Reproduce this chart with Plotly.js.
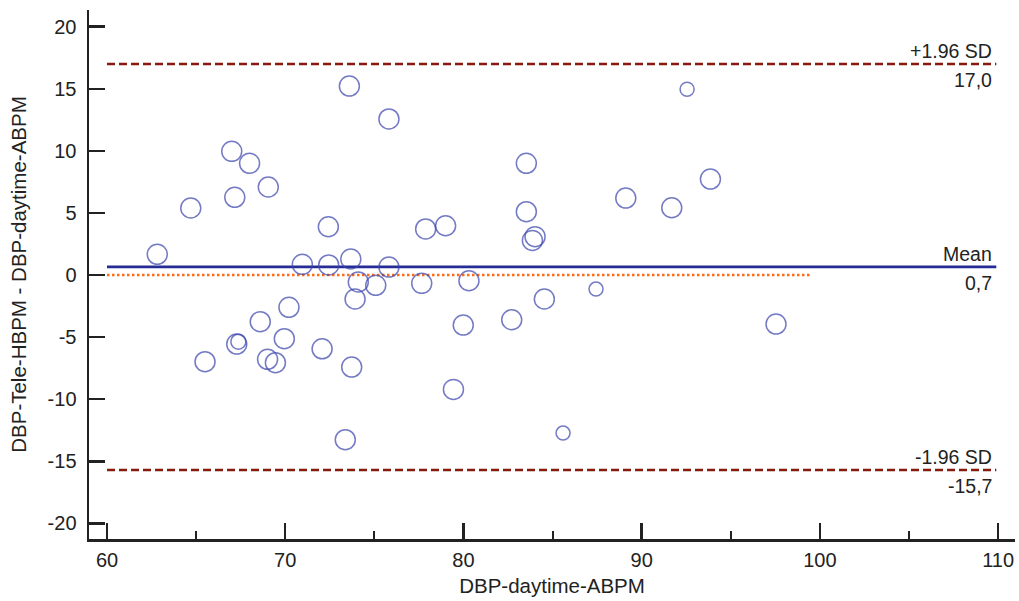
<!DOCTYPE html>
<html>
<head>
<meta charset="utf-8">
<script src="https://cdn.plot.ly/plotly-3.0.1.min.js"></script>
<style>
html,body{margin:0;padding:0;background:#fff;}
#chart{width:1019px;height:601px;}
</style>
</head>
<body>
<div id="chart"></div>
<script>
// Bland-Altman data: mean of methods (x) and difference (y)
const meanABPM = [73.6, 67.0, 68.0, 69.05, 67.17, 64.7, 72.42, 62.82,
  75.82, 83.53, 83.53, 77.88, 79.0, 84.02, 83.87, 92.55, 93.86, 89.11, 91.69,
  70.96, 72.44, 73.68, 74.1, 73.92, 70.21, 68.6, 69.95, 67.28, 67.37, 65.5,
  69.01, 69.45, 72.07, 73.73, 73.37, 75.82, 75.08, 77.66, 80.31, 79.99,
  82.71, 84.54, 79.44, 85.59, 87.44, 97.54];
const diffValues = [15.22, 9.96, 9.0, 7.09, 6.26, 5.40, 3.89, 1.67,
  12.57, 9.0, 5.10, 3.71, 3.97, 3.09, 2.79, 14.96, 7.73, 6.2, 5.42,
  0.86, 0.81, 1.29, -0.56, -1.93, -2.6, -3.76, -5.13, -5.56, -5.37, -6.98,
  -6.79, -7.06, -5.94, -7.41, -13.26, 0.64, -0.83, -0.67, -0.46, -4.03,
  -3.6, -1.93, -9.21, -12.73, -1.13, -3.95];
const markerSizes = [20, 20, 20, 20, 20, 20, 20, 20,
  20, 20, 20, 20, 20, 20, 20, 14, 20, 20, 20,
  20, 20, 20, 20, 20, 20, 20, 20, 20, 15, 20,
  20, 20, 20, 20, 20, 20, 20, 20, 20, 20,
  20, 20, 20, 14, 14, 20];

const upperLimit = 17.0;
const meanDiff = 0.65;
const lowerLimit = -15.7;
const lineXRange = [60, 109.9];
const zeroLineXRange = [60, 99.5];
const upperLabels = ["+1.96 SD", "17,0"];
const meanLabels = ["Mean", "0,7"];
const lowerLabels = ["-1.96 SD", "-15,7"];
const xTickVals = [60, 70, 80, 90, 100, 110];
const xTickText = ["60", "70", "80", "90", "100", "110"];
const yTickVals = [-20, -15, -10, -5, 0, 5, 10, 15, 20];
const yTickText = ["-20", "-15", "-10", "-5", "0", "5", "10", "15", "20"];
const xTitle = "DBP-daytime-ABPM";
const yTitle = "DBP-Tele-HBPM - DBP-daytime-ABPM";

const FONT = "Liberation Sans, Arial, sans-serif";
const TXT = "#222222";
const RED = "#861a0c";
const BLUE = "rgb(58,68,172)";

const traces = [
  {x: zeroLineXRange, y: [0, 0], mode: "lines", hoverinfo: "skip",
   line: {color: "#ff6a14", width: 2.5, dash: "2.5px,2.5px"}},
  {x: lineXRange, y: [upperLimit, upperLimit], mode: "lines", hoverinfo: "skip",
   line: {color: RED, width: 2.6, dash: "8px,4px"}},
  {x: lineXRange, y: [lowerLimit, lowerLimit], mode: "lines", hoverinfo: "skip",
   line: {color: RED, width: 2.6, dash: "8px,4px"}},
  {x: lineXRange, y: [meanDiff, meanDiff], mode: "lines", hoverinfo: "skip",
   line: {color: "#262c96", width: 2.8}},
  {x: meanABPM, y: diffValues, mode: "markers", type: "scatter",
   marker: {symbol: "circle", size: markerSizes,
            color: "rgba(0,0,0,0)", line: {width: 1.5, color: BLUE}}}
];

function labelPair(yv, labels) {
  return [
    {x: 109.75, y: yv, xref: "x", yref: "y", text: labels[0], showarrow: false,
     xanchor: "right", yanchor: "bottom", yshift: 0, font: {family: FONT, size: 19.5, color: TXT}},
    {x: 109.75, y: yv, xref: "x", yref: "y", text: labels[1], showarrow: false,
     xanchor: "right", yanchor: "top", yshift: -3, font: {family: FONT, size: 19.5, color: TXT}}
  ];
}

const axisCommon = {
  showgrid: false, zeroline: false, showline: true, linecolor: TXT, linewidth: 2.5,
  ticks: "inside", ticklen: 16, tickwidth: 2.5, tickcolor: TXT, tickmode: "array",
  tickfont: {family: FONT, size: 20, color: TXT}, automargin: false
};

const layout = {
  width: 1019, height: 601,
  margin: {l: 89, r: 4, t: 10, b: 62},
  paper_bgcolor: "#ffffff", plot_bgcolor: "#ffffff",
  showlegend: false,
  font: {family: FONT, color: TXT},
  xaxis: Object.assign({}, axisCommon, {
    range: [58.99, 110.95], tickvals: xTickVals, ticktext: xTickText, ticklabelstandoff: 1,
    minor: {tickmode: "linear", tick0: 0, dtick: 5, ticks: "inside", ticklen: 8, tickwidth: 2, tickcolor: TXT, showgrid: false},
    title: {text: xTitle, font: {family: FONT, size: 20.5, color: TXT}, standoff: 9}
  }),
  yaxis: Object.assign({}, axisCommon, {
    range: [-21.26, 21.345], tickvals: yTickVals, ticktext: yTickText, ticklabelstandoff: 6,
    title: {text: yTitle, font: {family: FONT, size: 20.5, color: TXT}, standoff: 16}
  }),
  annotations: [].concat(labelPair(upperLimit, upperLabels),
                         labelPair(meanDiff, meanLabels),
                         labelPair(lowerLimit, lowerLabels))
};

Plotly.newPlot("chart", traces, layout, {staticPlot: true, displayModeBar: false});
</script>
</body>
</html>
